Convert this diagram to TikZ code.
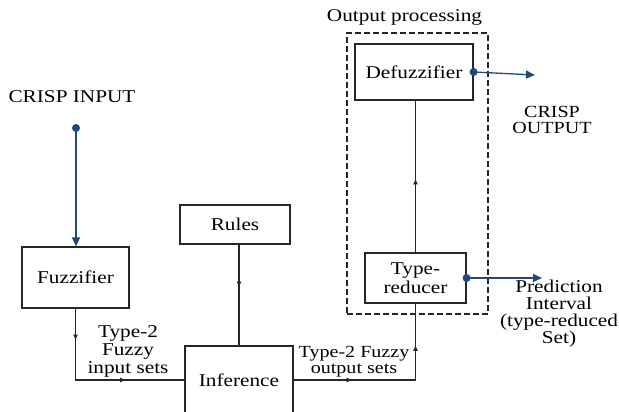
\documentclass[tikz,border=0pt]{standalone}
\usepackage{fontspec}
\setmainfont{Liberation Serif}[FakeStretch=1.18]
\usetikzlibrary{arrows.meta, positioning, fit, decorations.markings}
\definecolor{linkblue}{RGB}{31,73,125}
\newcommand{\flowtip}{\arrow{Latex[length=6pt,width=5pt]}}

\begin{document}
\begin{tikzpicture}[
    x=1pt, y=-1pt,
    every node/.style={font=\fontsize{18}{17}\selectfont},
    box/.style={rectangle, draw=black!85, line width=1.2pt, inner sep=0pt, align=center},
    wire/.style={black!85, line width=1.2pt, postaction={decorate}},
    bluearrow/.style={draw=linkblue, line width=1.3pt, -{Triangle[length=9pt,width=8pt]}},
    dot/.style={circle, fill=linkblue, inner sep=0pt, minimum size=8pt},
    lbl/.style={align=center, inner sep=0pt},
    container/.style={draw=black!85, line width=1.6pt, dash pattern=on 6pt off 3pt, inner sep=0pt}
  ]
    \useasboundingbox (0,0) rectangle (619,412);
    \clip (0,0) rectangle (619,412);

    % Input side
    \node[lbl] (crispin) at (72,97) {CRISP INPUT};
    \node[dot] (indot) at (76,128) {};
    \node[box, minimum width=107pt, minimum height=61pt] (fuzz) at (75.5,277.5) {Fuzzifier};

    % Rule base and inference
    \node[box, minimum width=110pt, minimum height=39pt] (rules) at (235,224.5) {Rules};
    \node[box, minimum width=108pt, minimum height=68pt] (inf) at (239,380) {Inference};

    % Output processing
    \node[container, fit={(347,33) (488,314)}] (outproc) {};
    \node[lbl] (outlbl) at (404.5,17) {Output processing};
    \node[box, minimum width=118pt, minimum height=56pt] (defuz) at (414,72) {Defuzzifier};
    \node[box, minimum width=101pt, minimum height=50pt, font=\fontsize{18}{19}\selectfont] (tred) at (415.5,278) {Type-\\reducer};

    % Labels
    \node[lbl, font=\fontsize{18}{18}\selectfont] (inlbl) at (128,351) {Type-2\\Fuzzy\\input sets};
    \node[lbl, font=\fontsize{17}{16}\selectfont] (outsets) at (354,362) {Type-2 Fuzzy\\output sets};
    \node[lbl, font=\fontsize{17}{16}\selectfont] (crispout) at (552,120) {CRISP\\OUTPUT};
    \node[lbl, font=\fontsize{18}{17}\selectfont] (predlbl) at (559,314) {Prediction\\Interval\\(type-reduced\\Set)};

    % Connections
    \draw[bluearrow] (indot.center) -- (indot |- fuzz.north);
    \draw[wire, decoration={markings, mark=at position 32pt with {\flowtip}, mark=at position 122pt with {\flowtip}}]
      (fuzz.south) |- (inf.west);
    \draw[wire, decoration={markings, mark=at position 43pt with {\flowtip}}]
      (inf.north |- rules.south) -- (inf.north);
    \draw[wire, decoration={markings, mark=at position 59pt with {\flowtip}, mark=at position 157pt with {\flowtip}}]
      (inf.east) -| (tred.south);
    \draw[wire, decoration={markings, mark=at position 74pt with {\flowtip}}]
      (tred.north) -- (tred.north |- defuz.south);

    \node[dot] (outdot) at (defuz.east) {};
    \coordinate (crispend) at (535,75);
    \draw[bluearrow] (outdot.center) -- (crispend);
    \node[dot] (preddot) at (tred.east) {};
    \coordinate (predend) at (542,278);
    \draw[bluearrow] (preddot.center) -- (predend);

  \end{tikzpicture}
\end{document}
